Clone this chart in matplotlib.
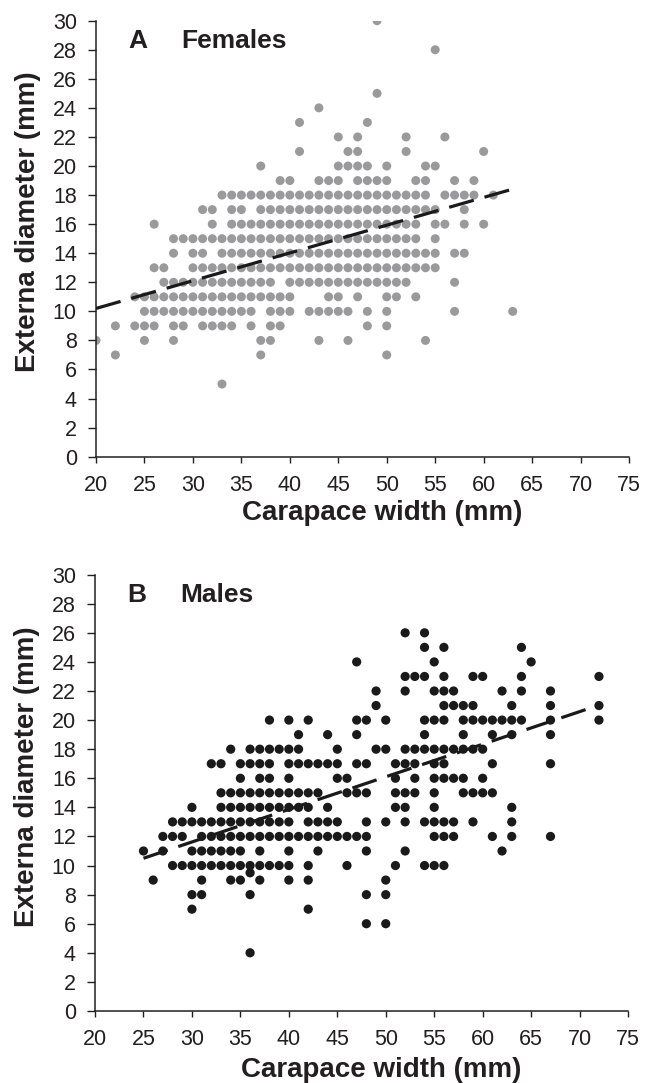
import numpy as np
import matplotlib.pyplot as plt

# --- Data: one list of carapace widths per externa diameter level ---
FEMALE_LEVELS = [30, 28, 25, 24, 23, 22, 21, 20, 19, 18, 17, 16, 15, 14, 13, 12, 11, 10, 9, 8, 7, 5]
FEMALE_WIDTHS = [
    [49],
    [55],
    [49],
    [43],
    [41, 48],
    [45, 47, 52, 56],
    [41, 46, 47, 52, 60],
    [37, 45, 46, 47, 48, 50, 54, 55],
    [39, 40, 43, 44, 45, 47, 48, 49, 50, 53, 54, 57, 59],
    [33, 34, 35, 36, 37, 38, 39, 40, 41, 42, 43, 44, 45, 46, 47, 48, 49, 50, 51, 52, 53, 54, 56, 57, 58, 59, 61],
    [31, 32, 34, 35, 37, 38, 39, 40, 41, 42, 43, 44, 45, 46, 47, 48, 49, 50, 51, 52, 53, 54, 55, 58],
    [26, 32, 34, 35, 36, 37, 38, 39, 40, 41, 42, 43, 44, 45, 46, 47, 48, 49, 50, 51, 52, 53, 55, 56, 58, 60],
    [28, 29, 30, 31, 32, 33, 34, 35, 36, 37, 38, 39, 40, 41, 42, 43, 44, 45, 46, 47, 48, 49, 50, 51, 52, 53, 55],
    [28, 30, 31, 33, 34, 35, 36, 37, 38, 39, 40, 41, 42, 43, 44, 45, 46, 47, 48, 49, 50, 51, 52, 53, 54, 55, 57, 58],
    [26, 27, 30, 31, 32, 33, 34, 35, 36, 37, 38, 39, 40, 41, 42, 43, 44, 45, 46, 47, 48, 49, 50, 51, 52, 53, 54, 55],
    [27, 28, 29, 30, 31, 32, 33, 34, 35, 36, 37, 38, 40, 41, 42, 43, 44, 45, 46, 47, 48, 49, 50, 51, 52, 57],
    [24, 25, 26, 27, 28, 29, 30, 31, 32, 33, 34, 35, 36, 37, 38, 39, 40, 44, 45, 47, 50, 51, 53],
    [25, 26, 27, 28, 29, 30, 31, 32, 33, 34, 35, 36, 38, 39, 40, 42, 43, 44, 45, 46, 48, 50, 57, 63],
    [22, 24, 25, 26, 28, 29, 31, 32, 33, 34, 36, 38, 39, 48, 50],
    [20, 25, 28, 37, 38, 43, 46, 54],
    [22, 37, 50],
    [33],
]

MALE_LEVELS = [26, 25, 24, 23, 22, 21, 20, 19, 18, 17, 16, 15, 14, 13, 12, 11, 10, 9.5, 9, 8, 7, 6, 4]
MALE_WIDTHS = [
    [52, 54],
    [54, 56, 64],
    [47, 55, 65],
    [52, 53, 54, 56, 59, 60, 64, 72],
    [49, 52, 55, 56, 57, 62, 64, 67],
    [49, 56, 57, 58, 59, 63, 67, 72],
    [38, 40, 42, 47, 48, 50, 54, 55, 56, 58, 59, 60, 61, 62, 63, 64, 67, 72],
    [41, 44, 47, 54, 58, 61, 63, 67],
    [34, 36, 37, 38, 39, 40, 41, 45, 49, 50, 52, 53, 54, 55, 56, 57, 58, 59, 60],
    [32, 33, 35, 36, 37, 38, 40, 41, 42, 43, 44, 45, 47, 48, 51, 52, 53, 55, 56, 61, 67],
    [35, 37, 38, 40, 45, 46, 51, 53, 55, 56, 57, 58, 60],
    [33, 34, 35, 36, 37, 38, 39, 40, 41, 42, 43, 46, 47, 48, 51, 52, 53, 55, 58, 59, 60, 61],
    [30, 33, 34, 35, 36, 37, 38, 39, 40, 41, 42, 44, 51, 52, 55, 63],
    [28, 29, 30, 31, 32, 33, 34, 35, 36, 37, 38, 39, 40, 42, 43, 44, 45, 48, 50, 52, 54, 55, 56, 57, 59, 63],
    [27, 28, 29, 31, 32, 33, 34, 35, 36, 37, 38, 39, 40, 41, 42, 43, 44, 45, 46, 47, 48, 55, 56, 57, 61, 63, 67],
    [25, 27, 30, 31, 32, 33, 34, 35, 37, 40, 43, 48, 52, 62],
    [28, 29, 30, 31, 32, 33, 34, 35, 36, 37, 38, 39, 40, 42, 46, 51, 54, 55, 56],
    [36],
    [26, 31, 34, 35, 37, 40, 42, 50],
    [30, 31, 36, 48, 50],
    [30, 42],
    [48, 50],
    [36],
]

# regression lines as printed: y at x0, slope, x0, x1
FEMALE_FIT = (10.2, 0.191, 20, 63)
MALE_FIT = (10.5, 0.224, 25, 72)

X_TICKS = [20, 25, 30, 35, 40, 45, 50, 55, 60, 65, 70, 75]
Y_TICKS = list(range(0, 31, 2))

TEXT_COL = '#231f20'
plt.rcParams['font.family'] = ['Liberation Sans', 'DejaVu Sans']


def flatten(levels, widths):
    xs, ys = [], []
    for lev, row in zip(levels, widths):
        xs.extend(row)
        ys.extend([lev] * len(row))
    return np.array(xs, float), np.array(ys, float)


def draw_panel(ax, levels, widths, fit, colour, size, title, xlab_y):
    x, y = flatten(levels, widths)
    ax.scatter(x, y, s=size, color=colour, edgecolors='none', zorder=2)
    y0, slope, x0, x1 = fit
    xl = np.array([x0, x1])
    ax.plot(xl, y0 + slope * (xl - x0), color='#1a1a1a', lw=2.3,
            dashes=(8, 3.5), zorder=3)
    ax.set_xlim(20, 75)
    ax.set_ylim(0, 30)
    ax.set_xticks(X_TICKS)
    ax.set_yticks(Y_TICKS)
    for s in ['top', 'right']:
        ax.spines[s].set_visible(False)
    for s in ['left', 'bottom']:
        ax.spines[s].set_color(TEXT_COL)
        ax.spines[s].set_linewidth(1.1)
    ax.tick_params(axis='y', direction='out', length=5.8, width=1, pad=8,
                   labelsize=15.5, colors=TEXT_COL)
    ax.tick_params(axis='x', direction='out', length=4, width=1, pad=9,
                   labelsize=15.5, colors=TEXT_COL)
    ax.set_xlabel('Carapace width (mm)', fontsize=20, fontweight='bold',
                  color=TEXT_COL)
    ax.set_ylabel('Externa diameter (mm)', fontsize=20, fontweight='bold',
                  color=TEXT_COL)
    ax.xaxis.set_label_coords(0.537, xlab_y)
    ax.yaxis.set_label_coords(-0.103, 0.538)
    ax.text(0.060, 0.937, title[0], transform=ax.transAxes, fontsize=19,
            fontweight='bold', color=TEXT_COL, va='baseline')
    ax.text(0.160, 0.937, title[1], transform=ax.transAxes, fontsize=19,
            fontweight='bold', color=TEXT_COL, va='baseline')


fig = plt.figure(figsize=(6.54, 10.83), dpi=100)
ax_a = fig.add_axes([0.1468, 0.5783, 0.815, 0.4026])
ax_b = fig.add_axes([0.1453, 0.0665, 0.815, 0.4029])

draw_panel(ax_a, FEMALE_LEVELS, FEMALE_WIDTHS, FEMALE_FIT, '#9a9a9c', 42,
           ('A', 'Females'), -0.100)
draw_panel(ax_b, MALE_LEVELS, MALE_WIDTHS, MALE_FIT, '#1a1a1a', 44,
           ('B', 'Males'), -0.105)

fig.savefig('out.png', dpi=100)
